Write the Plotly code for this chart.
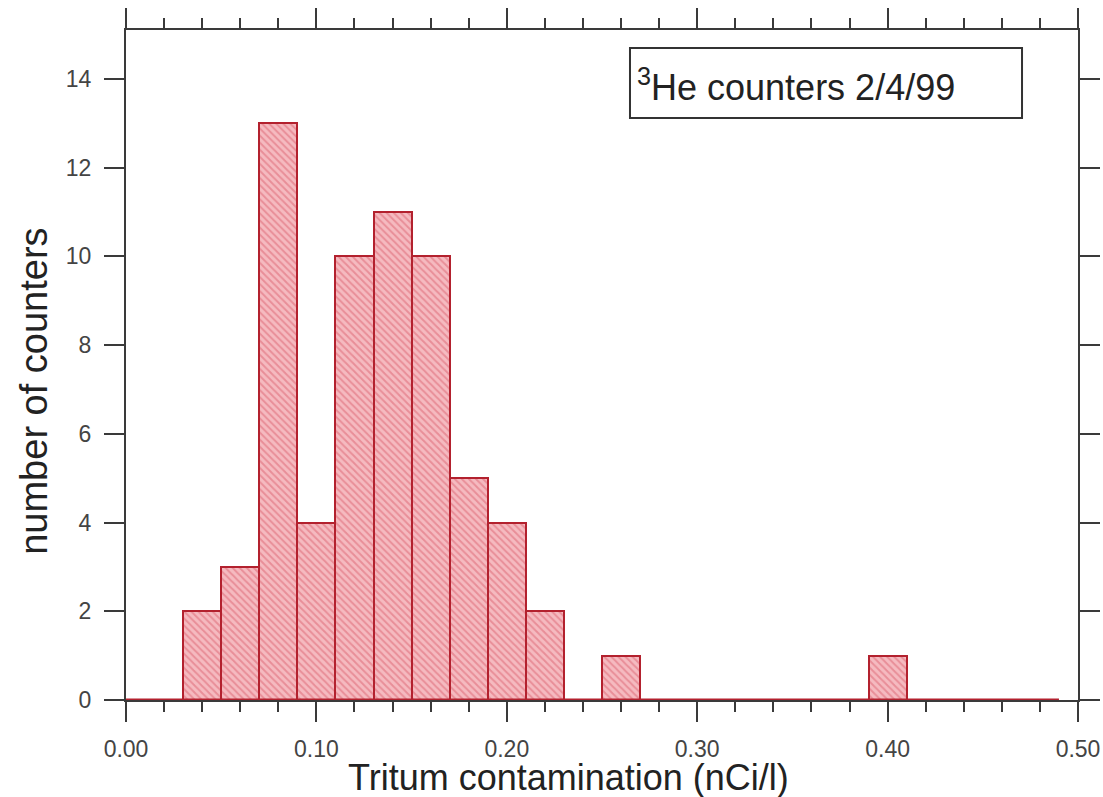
import plotly.graph_objects as go

# ---- data ----
bin_width = 0.02
bin_centers = [0.00, 0.02, 0.04, 0.06, 0.08, 0.10, 0.12, 0.14, 0.16, 0.18,
               0.20, 0.22, 0.24, 0.26, 0.28, 0.30, 0.32, 0.34, 0.36, 0.38,
               0.40, 0.42, 0.44, 0.46, 0.48]
counts = [0, 0, 2, 3, 13, 4, 10, 11, 10, 5,
          4, 2, 0, 1, 0, 0, 0, 0, 0, 0,
          1, 0, 0, 0, 0]
x_tickvals = [0.0, 0.1, 0.2, 0.3, 0.4, 0.5]
x_ticktext = ["0.00", "0.10", "0.20", "0.30", "0.40", "0.50"]
y_tickvals = [0, 2, 4, 6, 8, 10, 12, 14]
x_title = "Tritum contamination (nCi/l)"
y_title = "number of counters"
legend_text = "<sup>3</sup>He counters 2/4/99"

FONT = "Liberation Sans, Arial, Helvetica, sans-serif"
AXIS = "#3a3a3a"
EDGE = "#b3212e"

fig = go.Figure()

# baseline of the histogram (zero-count bins)
x_lo = max(0.0, bin_centers[0] - bin_width / 2)
x_hi = bin_centers[-1] + bin_width / 2
fig.add_trace(go.Scatter(
    x=[x_lo, x_hi], y=[0, 0], mode="lines",
    line=dict(color=EDGE, width=3), cliponaxis=False,
    hoverinfo="skip", showlegend=False))

nz_x = [c for c, n in zip(bin_centers, counts) if n > 0]
nz_y = [n for n in counts if n > 0]
fig.add_trace(go.Bar(
    x=nz_x, y=nz_y, width=bin_width,
    marker=dict(
        color="#f3b0b6",
        line=dict(color=EDGE, width=2),
        pattern=dict(shape="\\", fgcolor="#dc6270", bgcolor="#f5bac0",
                     size=5, solidity=0.4),
    ),
    showlegend=False))

fig.update_layout(
    width=1103, height=797,
    margin=dict(l=126, r=25, t=30, b=97, autoexpand=False),
    paper_bgcolor="white", plot_bgcolor="white",
    font=dict(family=FONT, color="#333"),
    bargap=0,
    showlegend=False,
    xaxis=dict(
        range=[0, 0.5], tickvals=x_tickvals, ticktext=x_ticktext,
        ticks="outside", ticklen=20, tickwidth=2, tickcolor=AXIS,
        minor=dict(dtick=0.02, ticks="outside", ticklen=10, tickwidth=2,
                   tickcolor=AXIS, showgrid=False),
        showline=True, linecolor=AXIS, linewidth=2, mirror="ticks",
        showgrid=False, zeroline=False, layer="below traces",
        tickfont=dict(size=23, color="#444"),
        ticklabelstandoff=7, automargin=False, ticklabeloverflow="allow",
    ),
    yaxis=dict(
        range=[0, 15.1], tickvals=y_tickvals,
        ticks="outside", ticklen=20, tickwidth=2, tickcolor=AXIS,
        showline=True, linecolor=AXIS, linewidth=2, mirror="ticks",
        showgrid=False, zeroline=False,
        tickfont=dict(size=23, color="#444"),
        ticklabelstandoff=8, automargin=False, ticklabeloverflow="allow",
    ),
)

# axis titles
fig.add_annotation(xref="paper", yref="paper", x=0.465, y=0,
                   xanchor="center", yanchor="middle", yshift=-77,
                   showarrow=False, text=x_title,
                   font=dict(size=36, color="#222", family=FONT))
fig.add_annotation(xref="paper", yref="paper", x=0, y=0.46,
                   xanchor="center", yanchor="middle", xshift=-92,
                   textangle=-90, showarrow=False, text=y_title,
                   font=dict(size=38, color="#222", family=FONT))

# label box
fig.add_shape(type="rect", xref="paper", yref="paper",
              x0=0.5294, x1=0.9412, y0=0.8687, y1=0.973,
              line=dict(color="#333", width=2), fillcolor="white")
fig.add_annotation(xref="paper", yref="paper", x=0.5347, y=0.918,
                   xanchor="left", yanchor="middle", showarrow=False,
                   text=legend_text, font=dict(size=36, color="#222", family=FONT))

fig.write_html("out.html", config={"displayModeBar": False},
               post_script="document.body.style.margin='0';")
